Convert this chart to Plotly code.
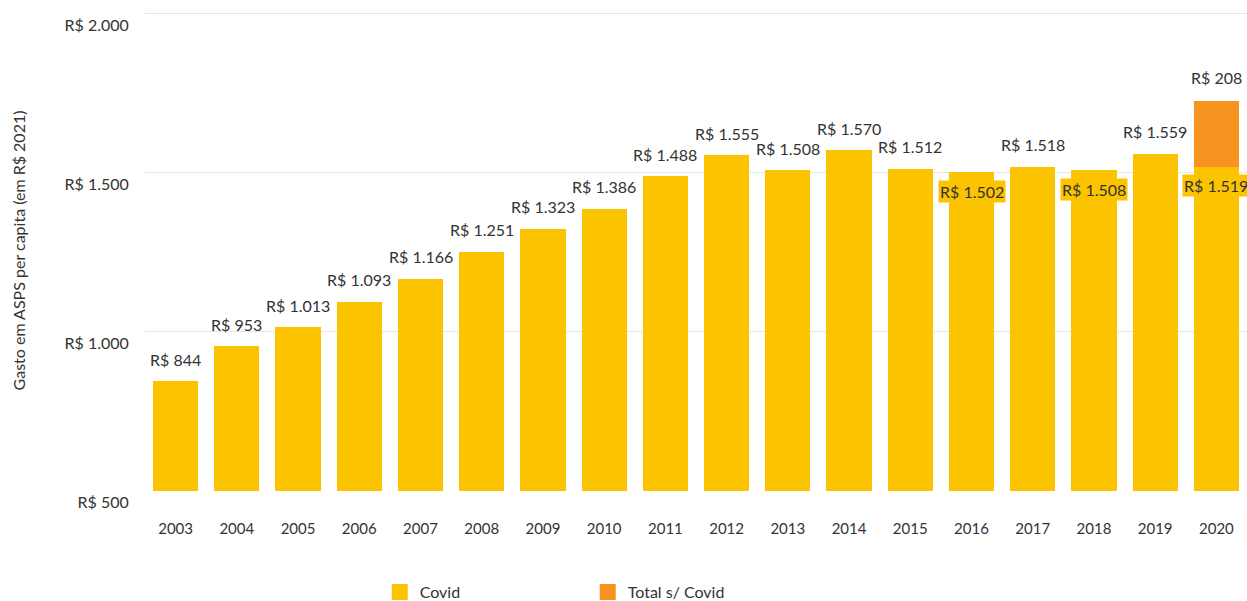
import plotly.graph_objects as go

years = list(range(2003, 2021))
base_values = [844, 953, 1013, 1093, 1166, 1251, 1323, 1386, 1488, 1555,
               1508, 1570, 1512, 1502, 1518, 1508, 1559, 1519]
covid_extra = [0] * 17 + [208]
inside_label_years = [2016, 2018, 2020]
y_ticks = [500, 1000, 1500, 2000]

YELLOW = "#FCC300"
ORANGE = "#F7941F"
TEXT = "#333333"
FONT = "Lato"


def brl(v):
    return "R$ " + f"{v:,}".replace(",", ".")


fig = go.Figure()
fig.add_trace(go.Bar(x=years, y=base_values, marker_color=YELLOW,
                     marker_line_width=0, showlegend=False, hoverinfo="skip"))
fig.add_trace(go.Bar(x=years, y=covid_extra, marker_color=ORANGE,
                     marker_line_width=0, showlegend=False, hoverinfo="skip"))

# legend proxies
fig.add_trace(go.Scatter(x=[None], y=[None], mode="markers", name="Covid",
                         marker=dict(symbol="square", size=16, color=YELLOW)))
fig.add_trace(go.Scatter(x=[None], y=[None], mode="markers", name="Total s/ Covid",
                         marker=dict(symbol="square", size=16, color=ORANGE)))

annotations = []
for yr, b, c in zip(years, base_values, covid_extra):
    if yr in inside_label_years:
        annotations.append(dict(x=yr, y=b, text=brl(b), showarrow=False,
                                yanchor="middle", yshift=-19, bgcolor=YELLOW,
                                borderpad=1, font=dict(size=16, color=TEXT)))
    else:
        annotations.append(dict(x=yr, y=b, text=brl(b), showarrow=False,
                                yanchor="middle", yshift=22,
                                font=dict(size=16, color=TEXT)))
    if c:
        annotations.append(dict(x=yr, y=b + c, text=brl(c), showarrow=False,
                                yanchor="middle", yshift=23,
                                font=dict(size=16, color=TEXT)))

fig.update_layout(
    barmode="stack",
    bargap=0.26,
    width=1247, height=601,
    margin=dict(l=145, r=0, t=10, b=110, autoexpand=False),
    paper_bgcolor="white", plot_bgcolor="white",
    font=dict(family=FONT, color=TEXT, size=15),
    annotations=annotations,
    legend=dict(orientation="h", traceorder="normal",
                x=0.213, xanchor="left", y=-0.21, yanchor="middle",
                entrywidth=163, entrywidthmode="pixels",
                font=dict(size=16, color=TEXT)),
    xaxis=dict(type="linear", range=[years[0] - 0.5, years[-1] + 0.5],
               tickvals=years, ticktext=[str(y) for y in years],
               showgrid=False, showline=False, zeroline=False,
               ticks="outside", ticklen=24, tickcolor="rgba(0,0,0,0)",
               tickfont=dict(size=15, color=TEXT)),
    yaxis=dict(range=[498, 2012], tickvals=y_ticks,
               ticktext=[brl(v) for v in y_ticks],
               showgrid=True, gridcolor="#e6e6e6", gridwidth=1,
               zeroline=False, showline=False,
               ticks="outside", ticklen=12, tickcolor="rgba(0,0,0,0)",
               ticklabelshift=12,
               tickfont=dict(size=16, color=TEXT),
               title=dict(text="Gasto em ASPS per capita (em R$ 2021)",
                          standoff=34, font=dict(size=16, color=TEXT))),
)

fig.write_html(
    "out.html",
    config={"displayModeBar": False},
    post_script="document.body.style.margin='0';document.body.style.overflow='hidden';",
)
